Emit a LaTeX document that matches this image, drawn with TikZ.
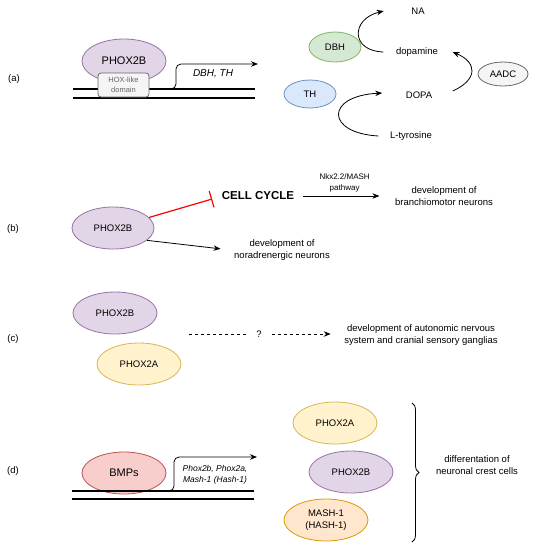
\documentclass[tikz,border=0pt]{standalone}
\usepackage{fontspec}
\setmainfont{Liberation Sans}
\usetikzlibrary{arrows.meta,positioning,shapes.geometric,decorations.pathreplacing}
\definecolor{purpf}{HTML}{E1D5E7}\definecolor{purpd}{HTML}{9673A6}
\definecolor{grnf}{HTML}{D5E8D4}\definecolor{grnd}{HTML}{82B366}
\definecolor{bluf}{HTML}{DAE8FC}\definecolor{blud}{HTML}{6C8EBF}
\definecolor{gryf}{HTML}{F5F5F5}\definecolor{gryd}{HTML}{666666}
\definecolor{yelf}{HTML}{FFF2CC}\definecolor{yeld}{HTML}{D6B656}
\definecolor{redf}{HTML}{F8CECC}\definecolor{redd}{HTML}{B85450}
\definecolor{orgf}{HTML}{FFE6CC}\definecolor{orgd}{HTML}{D79B00}

\begin{document}
\begin{tikzpicture}[x=1pt,y=-1pt,line width=0.8pt,>={Stealth[length=7pt,width=5.5pt]},font=\fontsize{9.5}{11.5}\selectfont,
  e/.style={ellipse,draw,inner sep=0pt,minimum width=84pt,minimum height=42pt},
  s/.style={ellipse,draw,inner sep=0pt,minimum width=52pt,minimum height=30pt},
  dna/.style={line width=1.3pt},
  big/.style={font=\fontsize{11}{13}\selectfont}]
\useasboundingbox (0,0) rectangle (533,550);
% (a)
\node (la) at (14,79) {(a)};
\node[e,big,fill=purpf,draw=purpd,minimum height=44pt] (p2a) at (124,61) {PHOX2B};
\draw[dna] (73,89) -- (255,89) (73,98) -- (255,98);
\node[draw=gryd,fill=gryf,rounded corners=3pt,minimum width=51pt,minimum height=24pt,inner sep=1pt,
  align=center,text=gryd,font=\fontsize{7.5}{10}\selectfont] (hox) at (123.5,85) {HOX-like\\domain};
\coordinate (pa0) at (170,89); \coordinate (pa1) at (258,64);
\draw[->,rounded corners=5pt] (pa0) -| (176,64) -- (pa1);
\node[font=\itshape] (gna) at (213,74) {DBH, TH};
\node (na) at (418,11) {NA};
\node[s,fill=grnf,draw=grnd] (dbh) at (335,47) {DBH};
\node (dop) at (417,52) {dopamine};
\node[s,fill=gryf,draw=gryd,minimum width=50pt,minimum height=24pt] (aadc) at (503,74) {AADC};
\node[s,fill=bluf,draw=blud,minimum height=28pt] (th) at (310,94) {TH};
\node (dopa) at (419,95) {DOPA};
\node (ltyr) at (411,136) {L-tyrosine};
\draw[->] ([xshift=-9pt]dop.west) .. controls +(-33,-1) and +(-33,8) .. ([xshift=-24pt]na.west);
\draw[->] ([xshift=17pt,yshift=4pt]dopa.east) .. controls +(26,-12) and +(24,10) .. ([xshift=11pt]dop.east);
\draw[->] ([xshift=-8pt]ltyr.west) .. controls +(-53,-3) and +(-57,3) .. ([xshift=-20pt,yshift=2pt]dopa.west);
% (b)
\node (lb) at (13,229) {(b)};
\node[e,fill=purpf,draw=purpd,minimum width=82pt] (p2b) at (113,228) {PHOX2B};
\node[font=\bfseries\fontsize{11.5}{13}\selectfont] (cc) at (258,196) {CELL CYCLE};
\node[align=center] (bmn) at (444,196) {development of\\branchiomotor neurons};
\node[align=center] (nor) at (282,250) {development of\\noradrenergic neurons};
\draw[red,line width=1.2pt,-{Bar[width=17pt]}] (p2b) -- ([xshift=-6pt,yshift=-3pt]cc.west);
\draw[->,shorten <=5pt,shorten >=12pt] (cc.east) -- (cc.east -| bmn.west)
  node[midway,above=0pt,align=center,font=\fontsize{8}{11}\selectfont] {Nkx2.2/MASH\\pathway};
\draw[->,shorten >=10pt] (p2b.-20) -- (nor.west);
% (c)
\node (lc) at (13,339) {(c)};
\node[e,fill=purpf,draw=purpd] (p2c) at (115,313) {PHOX2B};
\node[e,fill=yelf,draw=yeld] (p2ac) at (139,364) {PHOX2A};
\node (q) at (259,334) {?};
\node[align=center] (ans) at (421,335) {development of autonomic nervous\\system and cranial sensory ganglias};
\coordinate (c0) at (189,334);
\draw[dash pattern=on 3pt off 3pt,shorten >=6pt] (c0) -- (q);
\draw[->,dash pattern=on 3pt off 3pt,shorten <=7pt,shorten >=10pt] (q) -- (ans.west |- q);
% (d)
\node (ld) at (13,471) {(d)};
\node[e,big,fill=redf,draw=redd] (bmp) at (124,473) {BMPs};
\draw[dna] (72,491) -- (254,491) (72,499) -- (254,499);
\coordinate (pd0) at (169,491); \coordinate (pd1) at (257,457);
\draw[->,rounded corners=5pt] (pd0) -| (174,457) -- (pd1);
\node[font=\itshape\fontsize{8.5}{11.5}\selectfont,align=center] (gnd) at (215,475) {Phox2b, Phox2a,\\Mash-1 (Hash-1)};
\node[e,fill=yelf,draw=yeld] (p2ad) at (335,423) {PHOX2A};
\node[e,fill=purpf,draw=purpd] (p2bd) at (351,472) {PHOX2B};
\node[e,fill=orgf,draw=orgd,align=center] (mash) at (326,520) {MASH-1\\(HASH-1)};
\coordinate (br0) at (412,403); \coordinate (br1) at (412,542);
\draw[decorate,decoration={brace,amplitude=7pt}] (br0) -- (br1);
\node[align=center] (diff) at (477,465) {differentation of\\neuronal crest cells};
\end{tikzpicture}
\end{document}
